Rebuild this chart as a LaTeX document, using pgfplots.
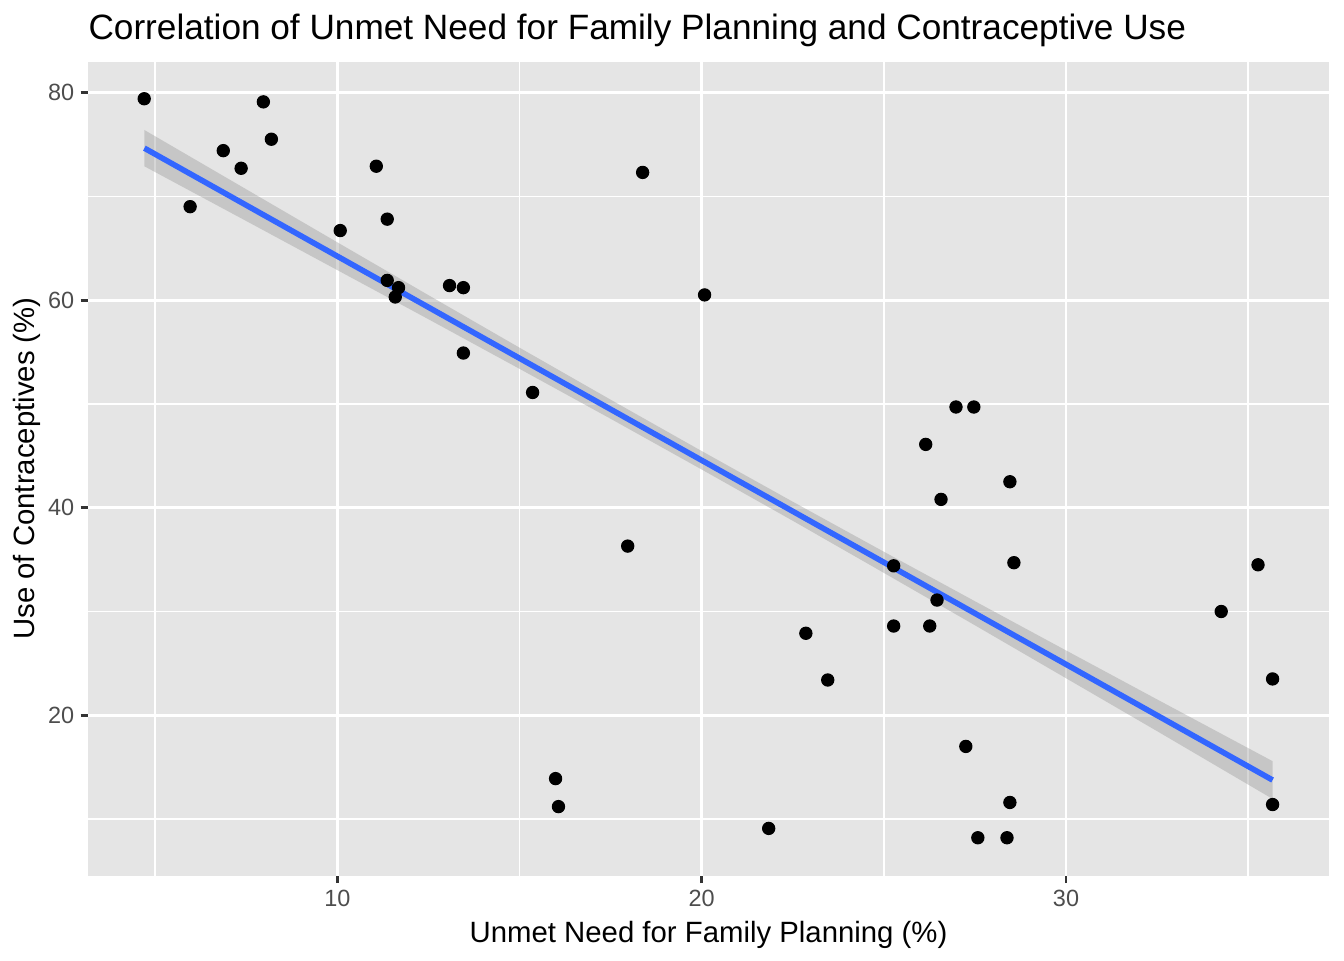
\documentclass[border=0pt]{standalone}
\usepackage{fontspec}
\setmainfont{Liberation Sans}
\usepackage{pgfplots}
\usepackage{pgfplotstable}
\pgfplotsset{compat=1.18}
\definecolor{panelbg}{HTML}{E5E5E5}
\definecolor{ticktext}{HTML}{4D4D4D}
\definecolor{tickline}{HTML}{333333}
\definecolor{smoothblue}{HTML}{3366FF}
\definecolor{bandgrey}{HTML}{999999}

% unmet need (%) vs contraceptive use (%)
\pgfplotstableread{
x y
4.70 79.4
7.97 79.1
6.87 74.4
8.19 75.5
7.36 72.7
5.96 69.0
11.07 72.9
10.08 66.7
11.37 67.8
11.37 61.9
11.68 61.2
11.59 60.3
13.08 61.4
13.46 61.2
13.46 54.9
15.36 51.1
18.38 72.3
20.08 60.5
17.97 36.3
15.99 13.9
16.07 11.2
21.84 9.1
22.86 27.9
23.46 23.4
25.27 34.4
25.27 28.6
26.26 28.6
26.46 31.1
26.15 46.1
26.57 40.8
26.98 49.7
27.47 49.7
27.25 17.0
27.58 8.2
28.38 8.2
28.46 42.5
28.57 34.7
28.46 11.6
34.26 30.0
35.27 34.5
35.67 23.5
35.67 11.4
}\pointdata

% 95% band of the linear fit: upper edge left to right, lower edge back
\pgfplotstableread{
x y
4.705 76.39
7.5 70.68
10 65.57
12.5 60.48
15 55.42
17.5 50.41
20 45.46
22.5 40.58
25 35.76
27.5 30.99
30 26.25
32.5 21.53
35.67 15.58
35.67 11.94
32.5 18.47
30 23.57
27.5 28.67
25 33.72
22.5 38.74
20 43.68
17.5 48.57
15 53.38
12.5 58.16
10 62.89
7.5 67.62
4.705 72.89
}\banddata

\begin{document}
\begin{tikzpicture}
\useasboundingbox (-33.0pt,-31.6pt) rectangle (471.0pt,328.4pt);
\begin{axis}[
	scale only axis,
	width=465.4pt,
	height=305.3pt,
	xmin=3.157, xmax=37.22,
	ymin=4.54, ymax=82.98,
	xtick={10,20,30},
	ytick={20,40,60,80},
	minor xtick={5,15,25,35},
	minor ytick={10,30,50,70},
	xtick pos=bottom,
	ytick pos=left,
	tick align=outside,
	major tick length=2.75pt,
	minor tick length=0pt,
	every tick/.style={tickline, line width=1.07pt},
	grid=both,
	major grid style={white, line width=1.07pt},
	minor grid style={white, line width=0.53pt},
	axis line style={draw=none},
	axis background/.style={fill=panelbg},
	/pgf/number format/assume math mode=true,
	ticklabel style={font=\fontsize{8.8}{10}\selectfont, text=ticktext, inner sep=0pt},
	xticklabel style={anchor=base, yshift=-8.85pt},
	yticklabel style={anchor=east, xshift=-2.2pt},
	title={Correlation of Unmet Need for Family Planning and Contraceptive Use},
	title style={at={(rel axis cs:0,1.0079)}, anchor=base west, inner sep=0pt, font=\fontsize{13.2}{15}\selectfont},
	xlabel={Unmet Need for Family Planning (\%)},
	xlabel style={at={(rel axis cs:0.5,-0.0819)}, anchor=base, inner sep=0pt, font=\fontsize{11}{13}\selectfont},
	ylabel={Use of Contraceptives (\%)},
	ylabel style={at={(rel axis cs:-0.04276,0.5)}, anchor=base, inner sep=0pt, font=\fontsize{11}{13}\selectfont},
]
\addplot[only marks, mark=*, mark size=2.3pt, black] table {\pointdata};
\addplot[draw=none, fill=bandgrey, fill opacity=0.4] table {\banddata} -- cycle;
\addplot[smoothblue, line width=2.1pt] coordinates {(4.705,74.64) (35.67,13.76)};
\end{axis}
\end{tikzpicture}
\end{document}
